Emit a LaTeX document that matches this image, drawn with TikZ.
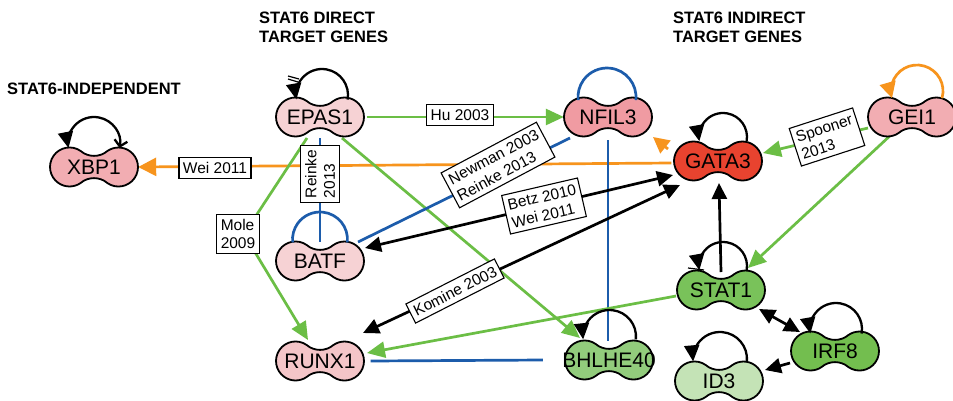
\documentclass[tikz,border=0pt]{standalone}
\usepackage{fontspec}
\setmainfont{Liberation Sans}
\usetikzlibrary{arrows.meta,calc,shapes.geometric}

\definecolor{lnGreen}{HTML}{6BBE45}
\definecolor{lnOrange}{HTML}{F7941D}
\definecolor{lnBlue}{HTML}{1C5CAB}
\definecolor{pinkA}{HTML}{F2ADB2}
\definecolor{pinkB}{HTML}{F6D2D4}
\definecolor{pinkC}{HTML}{F09BA2}
\definecolor{pinkD}{HTML}{F4C5C8}
\definecolor{redG}{HTML}{E8432F}
\definecolor{grnA}{HTML}{79C25A}
\definecolor{grnB}{HTML}{73BE4F}
\definecolor{grnC}{HTML}{92CC7C}
\definecolor{grnD}{HTML}{C4E3B6}

\pgfdeclarelayer{bg}
\pgfdeclarelayer{edges}
\pgfsetlayers{bg,edges,main}

\tikzset{
  genebox/.style={ellipse, minimum width=88pt, minimum height=38pt, inner sep=0pt,
    font=\fontsize{21}{21}\selectfont},
  outline/.style={draw=black, line width=1.8pt},
  refbox/.style={draw=black, fill=white, line width=1.1pt, inner xsep=4pt, inner ysep=5pt,
    align=left, font=\fontsize{15.5}{18.5}\selectfont},
  header/.style={anchor=north west, inner sep=0pt, align=left,
    font=\fontsize{16.5}{18.5}\selectfont\bfseries},
  link/.style={line width=2.7pt},
  tipG/.tip={Triangle[length=18pt,width=16pt]},
  tipK/.tip={Triangle[length=16pt,width=15pt]},
  grnarrow/.style={link, draw=lnGreen, -{tipG}},
  blueline/.style={link, draw=lnBlue},
  blkarrow/.style={link, draw=black, -{tipK}},
  blkdouble/.style={link, draw=black, {tipK}-{tipK}},
  orgarrow/.style={link, draw=lnOrange, -{Triangle[length=16pt,width=16pt]}},
  orgbig/.style={link, draw=lnOrange, -{Triangle[length=18pt,width=18pt]}},
  loopK/.style={line width=2.3pt, draw=black, -{tipK}},
  loopKK/.style={line width=2.3pt, draw=black, {Straight Barb[length=6pt,width=13pt]}-{tipK}},
  loopB/.style={line width=2.7pt, draw=lnBlue},
  loopO/.style={line width=2.7pt, draw=lnOrange, -{Triangle[length=16pt,width=16pt]}},
  barmark/.style={line width=1.2pt, draw=black},
}

% dumbbell outline of a gene around a centre point
\newcommand\peanut[2]{%
  \begin{scope}[shift={(#1)}]
    \path[outline, fill=#2] (13.3,16) arc[start angle=125, end angle=-125, radius=19.5]
      .. controls (6,-9.5) and (-6,-9.5) .. (-13.3,-16)
      arc[start angle=-55, end angle=-305, radius=19.5]
      .. controls (-6,9.5) and (6,9.5) .. cycle;
  \end{scope}}
\newcommand\gene[4]{\peanut{#2}{#3}\node[genebox] (#1) at (#2) {#4};}

% self-regulation loop: style, node, centre offset x/y, radius, end angle below the centre
\newcommand\selfloop[6]{%
  \draw[#1] ($(#2)+(#3,#4)+(#6:#5)$) arc[start angle=#6, end angle=-180-#6, radius=#5];}

\begin{document}
\begin{tikzpicture}[x=1pt,y=-1pt]
\useasboundingbox (0,0) rectangle (953,400);
\begin{pgfonlayer}{bg}
  \fill[white] (0,0) rectangle (953,400);
\end{pgfonlayer}

% headings
\node[header] (hdDirect) at (259,12) {STAT6 DIRECT\\TARGET GENES};
\node[header] (hdIndirect) at (673,12) {STAT6 INDIRECT\\TARGET GENES};
\node[header] (hdIndep) at (7,83) {STAT6-INDEPENDENT};

% genes
\gene{xbp1}{94,167}{pinkA}{XBP1}
\gene{epas1}{320,117}{pinkB}{EPAS1}
\gene{nfil3}{608,117}{pinkC}{NFIL3}
\gene{gata3}{718,161}{redG}{GATA3}
\gene{gei1}{912,117}{pinkA}{GEI1}
\gene{batf}{320,261}{pinkB}{BATF}
\gene{runx1}{320,361}{pinkD}{RUNX1}
\gene{bhlhe40}{609,360}{grnC}{BHLHE40}
\gene{stat1}{721,290}{grnA}{STAT1}
\gene{irf8}{835,351}{grnB}{IRF8}
\gene{id3}{719,381}{grnD}{ID3}

% literature references
\node[refbox] (hu) at (460,115) {Hu 2003};
\node[refbox] (wei) at (215,168) {Wei 2011};
\node[refbox, rotate=90] (reinke) at (320,174) {Reinke\\2013};
\node[refbox] (mole) at (238,234) {Mole\\2009};
\node[refbox, rotate=28] (newman) at (498,165) {Newman 2003\\Reinke 2013};
\node[refbox, rotate=13] (betz) at (544,206) {Betz 2010\\Wei 2011};
\node[refbox, rotate=27] (komine) at (455,291) {Komine 2003};
\node[refbox, rotate=18] (spooner) at (827,137) {Spooner\\2013};

\begin{pgfonlayer}{edges}
  % regulatory links
  \draw[grnarrow] (epas1.east) -- (nfil3.west);
  \draw[orgbig] ($(gata3.west)+(0,2)$) -- (xbp1.east);
  \draw[grnarrow] ($(epas1)+(-13,21)$) -- ($(mole)+(6,0)$) -- ($(runx1)+(-12,-21)$);
  \draw[grnarrow] ($(epas1)+(22,21)$) -- ($(bhlhe40)+(-29,-22)$);
  \draw[blueline] ($(epas1.south)+(0,2)$) -- ($(batf)+(0,-19)$);
  \draw[blueline] ($(batf)+(38,-19)$) -- ($(nfil3)+(-38,21)$);
  \draw[blueline] ($(nfil3.south)+(0,4)$) -- ($(bhlhe40)+(-1,-19)$);
  \draw[blueline] (runx1.east) -- (bhlhe40.west);
  \draw[blkdouble] ($(batf)+(45,-13)$) -- ($(gata3)+(-45,14)$);
  \draw[blkdouble] ($(runx1)+(43,-28)$) -- ($(gata3)+(-38,24)$);
  \draw[grnarrow] ($(gei1)+(-44,11)$) -- ($(gata3)+(45,-8)$);
  \draw[grnarrow] ($(gei1)+(-19,16)$) -- ($(stat1)+(27,-22)$);
  \draw[blkarrow] ($(stat1)+(0,-18)$) -- ($(gata3)+(1,22)$);
  \draw[grnarrow] ($(stat1)+(-45,6)$) -- ($(runx1)+(47,-8)$);
  \draw[blkdouble] ($(stat1)+(38,19)$) -- ($(irf8)+(-35,-19)$);
  \draw[blkarrow] ($(irf8)+(-45,12)$) -- ($(id3)+(46,-11)$);
  \draw[orgarrow] ($(gata3)+(-50,-12)$) -- ($(gata3)+(-65,-24)$);
\end{pgfonlayer}

% self loops
\selfloop{loopKK}{xbp1}{0}{-24}{26}{11}
\selfloop{loopK}{epas1}{2}{-22}{26}{10}
\selfloop{loopB}{nfil3}{-1}{-20}{29}{6}
\selfloop{loopK}{gata3}{5}{-24}{24}{10}
\selfloop{loopO}{gei1}{5}{-26}{26}{16}
\selfloop{loopB}{batf}{0}{-21.5}{27.5}{6}
\selfloop{loopK}{bhlhe40}{0.5}{-23.5}{26.5}{6}
\selfloop{loopK}{stat1}{2}{-24}{24}{10}
\selfloop{loopK}{irf8}{1}{-22}{26}{10}
\selfloop{loopK}{id3}{1}{-22}{27}{5}

% small bars across the EPAS1 and STAT1 loops
\draw[barmark] ($(epas1)+(-32,-41)$) -- ($(epas1)+(-21,-38)$);
\draw[barmark] ($(epas1)+(-32,-38)$) -- ($(epas1)+(-22,-35)$);
\draw[barmark] ($(stat1)+(-33,-22)$) -- ($(stat1)+(-17,-20)$);
\end{tikzpicture}
\end{document}
